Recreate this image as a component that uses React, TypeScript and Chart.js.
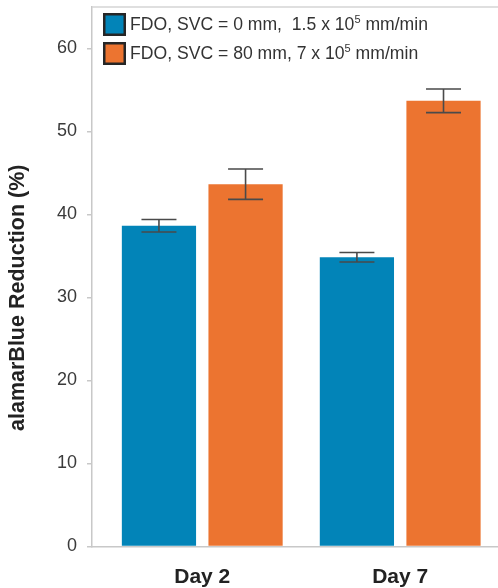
import React, { useEffect, useRef } from 'react';
import { Chart, registerables } from 'chart.js';

Chart.register(...registerables);

const categories = ['Day 2', 'Day 7'];
const seriesLabels = ['FDO, SVC = 0 mm,  1.5 x 10⁵ mm/min', 'FDO, SVC = 80 mm, 7 x 10⁵ mm/min'];
const seriesA = [38.65, 34.85];
const seriesAErr = [0.75, 0.57];
const seriesB = [43.65, 53.7];
const seriesBErr = [1.83, 1.42];
const yTicks = [0, 10, 20, 30, 40, 50, 60];
const yMin = 0;
const yMax = 65;
const seriesColors = ['#0284B8', '#EC7430'];
const yTitle = 'alamarBlue Reduction (%)';

const FAMILY = '"Liberation Sans", Arial, Helvetica, sans-serif';
const SUP = '⁰¹²³⁴⁵⁶⁷⁸⁹';

function drawRich(ctx: CanvasRenderingContext2D, text: string, x: number, y: number, size: number) {
  const runs: { t: string; sup: boolean }[] = [];
  for (const ch of text) {
    const idx = SUP.indexOf(ch);
    const sup = idx >= 0;
    const c = sup ? String(idx) : ch;
    const last = runs[runs.length - 1];
    if (last && last.sup === sup) last.t += c;
    else runs.push({ t: c, sup });
  }
  let cx = x;
  ctx.textBaseline = 'middle';
  ctx.textAlign = 'left';
  for (const r of runs) {
    if (r.sup) {
      ctx.font = `${Math.round(size * 0.65)}px ${FAMILY}`;
      ctx.fillText(r.t, cx, y - size * 0.3);
    } else {
      ctx.font = `${size}px ${FAMILY}`;
      ctx.fillText(r.t, cx, y);
    }
    cx += ctx.measureText(r.t).width;
  }
}

const errorBarPlugin = {
  id: 'errorBars',
  afterDatasetsDraw(chart: any) {
    const ctx = chart.ctx as CanvasRenderingContext2D;
    const yScale = chart.scales.y;
    const errs = [seriesAErr, seriesBErr];
    const vals = [seriesA, seriesB];
    ctx.save();
    ctx.strokeStyle = '#4a4a4a';
    ctx.lineWidth = 1.6;
    chart.data.datasets.forEach((_: any, di: number) => {
      const meta = chart.getDatasetMeta(di);
      meta.data.forEach((bar: any, i: number) => {
        const v = vals[di][i];
        const e = errs[di][i];
        const yt = yScale.getPixelForValue(v + e);
        const yb = yScale.getPixelForValue(v - e);
        const half = 17.5;
        ctx.beginPath();
        ctx.moveTo(bar.x, yt);
        ctx.lineTo(bar.x, yb);
        ctx.moveTo(bar.x - half, yt);
        ctx.lineTo(bar.x + half, yt);
        ctx.moveTo(bar.x - half, yb);
        ctx.lineTo(bar.x + half, yb);
        ctx.stroke();
      });
    });
    ctx.restore();
  },
};

const framePlugin = {
  id: 'frameLegend',
  afterDraw(chart: any) {
    const ctx = chart.ctx as CanvasRenderingContext2D;
    const area = chart.chartArea;
    ctx.save();
    ctx.strokeStyle = '#d4d4d4';
    ctx.lineWidth = 1.5;
    ctx.beginPath();
    ctx.moveTo(area.left, area.top);
    ctx.lineTo(area.right, area.top);
    ctx.stroke();

    // y-axis title
    ctx.save();
    ctx.translate(18, (area.top + area.bottom) / 2 + 21);
    ctx.rotate(-Math.PI / 2);
    ctx.font = `bold 21.5px ${FAMILY}`;
    ctx.fillStyle = '#222222';
    ctx.textAlign = 'center';
    ctx.textBaseline = 'middle';
    ctx.fillText(yTitle, 0, 0);
    ctx.restore();

    // legend
    const bx = area.left + 11;
    const by0 = area.top + 6;
    const box = 23;
    const rowGap = 29;
    chart.data.datasets.forEach((ds: any, i: number) => {
      const by = by0 + i * rowGap;
      ctx.fillStyle = ds.backgroundColor;
      ctx.fillRect(bx, by, box, box);
      ctx.strokeStyle = '#262626';
      ctx.lineWidth = 2.5;
      ctx.strokeRect(bx + 1.25, by + 1.25, box - 2.5, box - 2.5);
      ctx.fillStyle = '#333333';
      drawRich(ctx, ds.label, bx + box + 4, by + box / 2 + 1, 17.6);
    });
    ctx.restore();
  },
};

export default function App() {
  const ref = useRef<HTMLCanvasElement | null>(null);

  useEffect(() => {
    document.body.style.margin = '0';
    const canvas = ref.current;
    if (!canvas) return;
    const chart = new Chart(canvas, {
      type: 'bar',
      data: {
        datasets: [
          {
            label: seriesLabels[0],
            data: categories.map((_, i) => ({ x: i, y: seriesA[i] })),
            backgroundColor: seriesColors[0],
            borderWidth: 0,
            categoryPercentage: 0.875,
            barPercentage: 0.857,
          },
          {
            label: seriesLabels[1],
            data: categories.map((_, i) => ({ x: i, y: seriesB[i] })),
            backgroundColor: seriesColors[1],
            borderWidth: 0,
            categoryPercentage: 0.875,
            barPercentage: 0.857,
          },
        ],
      },
      options: {
        responsive: false,
        animation: false,
        layout: { padding: { top: 7, left: 0, right: 0, bottom: 0 } },
        plugins: { legend: { display: false }, tooltip: { enabled: false } },
        scales: {
          x: {
            type: 'linear',
            min: -0.557,
            max: 1.494,
            offset: false,
            afterBuildTicks: (s: any) => {
              s.ticks = categories.map((_, i) => ({ value: i }));
            },
            ticks: {
              callback: (v: any) => categories[v] ?? '',
              autoSkip: false,
              maxRotation: 0,
              font: { size: 21, weight: 'bold', family: FAMILY },
              color: '#222222',
              padding: 18,
            },
            grid: { display: false, drawTicks: false },
            border: { display: true, color: '#c8c8c8', width: 1.5 },
            afterFit: (s: any) => {
              s.height = 41.5;
              s.paddingLeft = 0;
              s.paddingRight = 0;
            },
          },
          y: {
            min: yMin,
            max: yMax,
            afterBuildTicks: (s: any) => {
              s.ticks = yTicks.map((v) => ({ value: v }));
            },
            ticks: {
              font: { size: 18, family: FAMILY },
              color: '#3a3a3a',
              padding: 10,
            },
            grid: { drawOnChartArea: false, drawTicks: true, tickLength: 5, color: '#c8c8c8', lineWidth: 1.5 },
            border: { display: true, color: '#c8c8c8', width: 1.5 },
            title: { display: false },
            afterFit: (s: any) => {
              s.width = 92;
              s.paddingTop = 0;
              s.paddingBottom = 0;
            },
          },
        },
      },
      plugins: [errorBarPlugin, framePlugin],
    } as any);
    return () => chart.destroy();
  }, []);

  return (
    <div style={{ width: 498, height: 588, position: 'relative', background: '#fff' }}>
      <canvas ref={ref} width={498} height={588} style={{ width: 498, height: 588, display: 'block' }} />
    </div>
  );
}
